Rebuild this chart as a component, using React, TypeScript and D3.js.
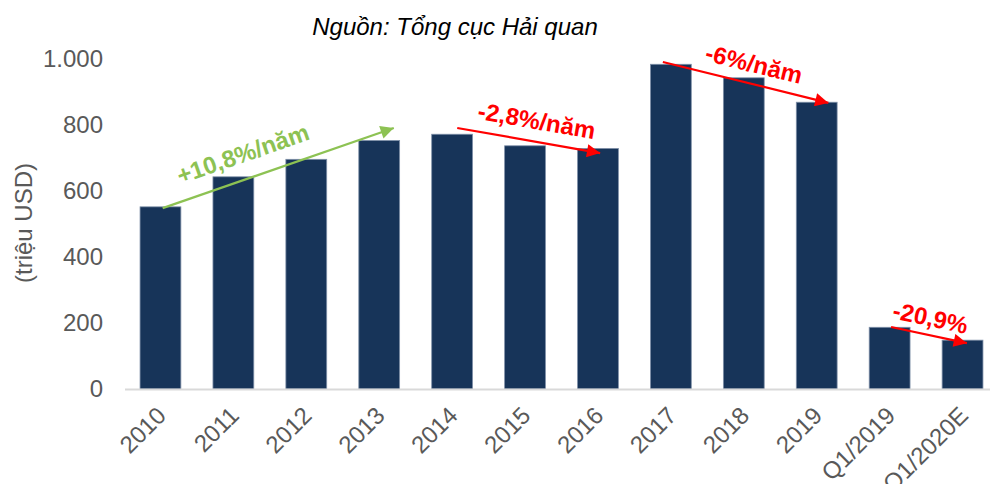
import React from "react";
import * as d3 from "d3";

const categories = ["2010", "2011", "2012", "2013", "2014", "2015", "2016", "2017", "2018", "2019", "Q1/2019", "Q1/2020E"];
const values = [552, 643, 696, 753, 772, 737, 729, 984, 943, 869, 187, 148];
const yTicks = [0, 200, 400, 600, 800, 1000];
const yTickLabels = ["0", "200", "400", "600", "800", "1.000"];

const title = "Nguồn: Tổng cục Hải quan";
const yTitle = "(triệu USD)";

// trend arrows: fractional category index + value at start and tip
const arrowLabels = ["+10,8%/năm", "-2,8%/năm", "-6%/năm", "-20,9%"];
const arrowColors = ["#8DC253", "#FF0000", "#FF0000", "#FF0000"];
const arrowFrom = [[0.03, 548], [4.07, 791], [6.89, 991], [10.02, 188]];
const arrowTo = [[3.2, 791], [6.03, 715], [9.16, 867], [11.06, 139]];
const labelAt = [[1.13, 713], [5.16, 813], [8.14, 985], [10.56, 216]];

const W = 990;
const H = 484;

export default function App() {
  const x = d3.scaleBand<string>().domain(categories).range([124, 999]).paddingInner(0.44).paddingOuter(0.22);
  const y = d3.scaleLinear().domain([0, 1000]).range([389, 59]);
  const step = x.step();
  const c0 = (x(categories[0]) as number) + x.bandwidth() / 2;
  const xi = (i: number) => c0 + i * step;
  const gray = "#595959";

  return (
    <svg width={W} height={H} style={{ position: "absolute", left: 0, top: 0 }} fontFamily="Liberation Sans, Arial, sans-serif">
      <defs>
        {arrowColors.map((c, i) => (
          <marker key={i} id={`ah${i}`} viewBox="0 0 10 10" refX="10" refY="5" markerWidth="7" markerHeight="6" markerUnits="strokeWidth" orient="auto">
            <path d="M0,0 L10,5 L0,10 z" fill={c} />
          </marker>
        ))}
      </defs>
      <text x={455} y={35} textAnchor="middle" fontSize={24} fontStyle="italic" fill="#000">{title}</text>
      <text transform={`translate(32,223) rotate(-90)`} textAnchor="middle" fontSize={24} fill={gray}>{yTitle}</text>
      {yTicks.map((t, i) => (
        <text key={t} x={103} y={y(t)} dy="0.35em" textAnchor="end" fontSize={24} fill={gray}>{yTickLabels[i]}</text>
      ))}
      {categories.map((c, i) => (
        <rect key={c} x={x(c)} y={y(values[i])} width={x.bandwidth()} height={y(0) - y(values[i])} fill="#173459" stroke="#7f90a8" strokeWidth={0.8} />
      ))}
      <line x1={125} x2={990} y1={y(0) + 0.5} y2={y(0) + 0.5} stroke="#d9d9d9" strokeWidth={2} />
      {categories.map((c) => {
        const cx = (x(c) as number) + x.bandwidth() / 2 + 7;
        return (
          <text key={c} transform={`translate(${cx},${417}) rotate(-45)`} textAnchor="end" fontSize={24} fill={gray}>{c}</text>
        );
      })}
      {arrowLabels.map((l, i) => {
        const x1 = xi(arrowFrom[i][0]);
        const y1 = y(arrowFrom[i][1]);
        const x2 = xi(arrowTo[i][0]);
        const y2 = y(arrowTo[i][1]);
        const ang = (Math.atan2(y2 - y1, x2 - x1) * 180) / Math.PI;
        const lx = xi(labelAt[i][0]);
        const ly = y(labelAt[i][1]);
        return (
          <g key={l}>
            <line x1={x1} y1={y1} x2={x2} y2={y2} stroke={arrowColors[i]} strokeWidth={2.2} markerEnd={`url(#ah${i})`} />
            <text transform={`translate(${lx},${ly}) rotate(${ang})`} textAnchor="middle" dy="0.35em" fontSize={24} fontWeight="bold" fill={arrowColors[i]}>{l}</text>
          </g>
        );
      })}
    </svg>
  );
}
